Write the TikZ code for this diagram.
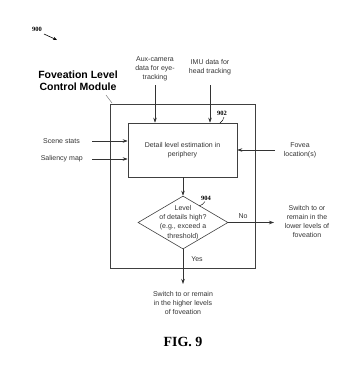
\documentclass[tikz,border=0pt]{standalone}
\usepackage{fontspec}
\setmainfont{Liberation Sans}
\newfontfamily\serifbf{Liberation Serif}
\usetikzlibrary{arrows.meta,shapes.geometric}
\begin{document}
\begin{tikzpicture}[x=1pt,y=-1pt,
  lbl/.style={align=center,font=\fontsize{7}{9.3}\selectfont,inner sep=0pt,text=black!80},
  num/.style={font=\serifbf\bfseries\fontsize{6.5}{7}\selectfont,inner sep=0pt},
  arr/.style={-{Stealth[length=5pt,width=3.5pt]},line width=0.6pt,draw=black!80},
  boxline/.style={draw=black!75,line width=0.6pt}]
\useasboundingbox (0,0) rectangle (350,373);
% outer box
\node[boxline,minimum width=145pt,minimum height=164pt,inner sep=0pt] (outer) at (182.5,186) {};
% inner box
\node[boxline,minimum width=109pt,minimum height=54pt,inner sep=0pt,lbl] (detail) at (182.5,150) {Detail level estimation in\\periphery};
% diamond
\node[boxline,diamond,minimum width=90pt,minimum height=53pt,inner sep=0pt] (dec) at (183,222.5) {};
\node[lbl] (dectext) at (183,222.5) {Level\\of details high?\\(e.g., exceed a\\threshold)};
% inputs
\node[lbl] (aux) at (155,69) {Aux-camera\\data for eye-\\tracking};
\node[lbl] (imu) at (210,67.5) {IMU data for\\head tracking};
\node[lbl,anchor=east] (scene) at (80,141) {Scene stats};
\node[lbl,anchor=east] (sal) at (83,159) {Saliency map};
\node[lbl] (fovea) at (300,150) {Fovea\\location(s)};
\coordinate (auxs) at (155,85);
\coordinate (imus) at (210,85);
\coordinate (scs) at (92,141);
\coordinate (sas) at (92,159);
\coordinate (fos) at (275,150);
\draw[arr] (auxs) -- (auxs |- detail.north);
\draw[arr] (imus) -- (imus |- detail.north);
\draw[arr] (scs) -- (scs -| detail.west);
\draw[arr] (sas) -- (sas -| detail.west);
\draw[arr] (fos) -- (fos -| detail.east);
\draw[arr] (detail.south -| dec.north) -- (dec.north);
% outputs
\node[lbl] (lower) at (307,221.5) {Switch to or\\remain in the\\lower levels of\\foveation};
\node[lbl] (higher) at (183,303) {Switch to or remain\\in the higher levels\\of foveation};
\coordinate (noend) at (274,222.5);
\coordinate (yesend) at (183,284);
\draw[arr] (dec.east) -- (noend);
\draw[arr] (dec.south) -- (yesend);
\node[lbl] (no) at (243,216) {No};
\node[lbl] (yes) at (197,259) {Yes};
% title
\node[align=center,font=\bfseries\fontsize{10.5}{12}\selectfont,inner sep=0pt] (title) at (78,81) {Foveation Level\\Control Module};
\coordinate (tl1) at (106,95);
\coordinate (tl2) at (112,103);
\draw[black!60,line width=0.4pt] (tl1) -- (tl2);
% reference numerals
\node[num] (n900) at (37,29) {900};
\coordinate (a900s) at (44,34);
\coordinate (a900e) at (57,40);
\draw[-{Stealth[length=4pt,width=3pt]},line width=0.6pt] (a900s) -- (a900e);
\node[num] (n902) at (222,113) {902};
\coordinate (l902a) at (224,117);
\coordinate (l902b) at (220,123);
\draw[line width=0.4pt] (l902a) to[bend left=20] (l902b);
\node[num] (n904) at (206,198) {904};
\coordinate (l904a) at (205,201.5);
\coordinate (l904b) at (199,206);
\draw[line width=0.4pt] (l904a) to[bend left=20] (l904b);
% figure label
\node[font=\serifbf\bfseries\fontsize{14}{16}\selectfont,inner sep=0pt] (fig) at (183,342) {FIG. 9};
\end{tikzpicture}
\end{document}
